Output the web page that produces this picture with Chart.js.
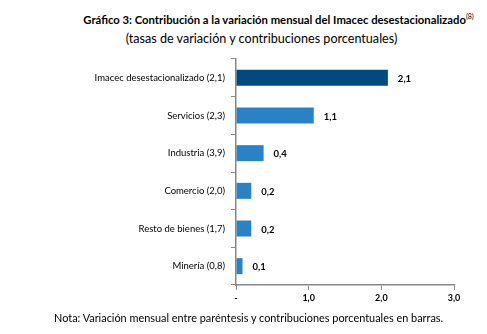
<!DOCTYPE html>
<html>
<head>
<meta charset="utf-8">
<script src="https://cdn.jsdelivr.net/npm/chart.js@4"></script>
<style>
  body { margin: 0; background: #fff; }
  #wrap { position: relative; width: 487px; height: 334px; font-family: Lato, "Open Sans", sans-serif; }
  #title { position: absolute; top: 9px; left: 0; width: 487px; text-align: center; font-size: 11.3px; line-height: 14px; color: #000; }
  #title b { position: relative; left: 35px; }
  #title sup { font-size: 7px; font-weight: normal; }
  #title .sub { position: relative; left: 18px; top: 5px; font-size: 12.6px; }
  #note { position: absolute; top: 311px; left: 54px; font-size: 10.9px; color: #000; }
  canvas { position: absolute; top: 0; left: 0; }
</style>
</head>
<body>
<div id="wrap">
  <div id="title"><b>Gráfico 3: Contribución a la variación mensual del Imacec desestacionalizado<sup>(8)</sup></b><br><span class="sub">(tasas de variación y contribuciones porcentuales)</span></div>
  <canvas id="chart" width="487" height="334"></canvas>
  <div id="note">Nota: Variación mensual entre paréntesis y contribuciones porcentuales en barras.</div>
</div>
<script>
var categories = ['Imacec desestacionalizado (2,1)', 'Servicios (2,3)', 'Industria (3,9)', 'Comercio (2,0)', 'Resto de bienes (1,7)', 'Minería (0,8)'];
var contributions = [2.09, 1.07, 0.38, 0.21, 0.21, 0.09];
var barColors = ['#004A80', '#2A82C6', '#2A82C6', '#2A82C6', '#2A82C6', '#2A82C6'];

function fmt(v) {
  return v.toFixed(1).replace('.', ',');
}

// etiquetas de valor a la derecha de cada barra
var valueLabels = {
  id: 'valueLabels',
  afterDatasetsDraw: function (chart) {
    var ctx = chart.ctx;
    var meta = chart.getDatasetMeta(0);
    ctx.save();
    ctx.font = 'bold 9.5px Lato, "Open Sans", sans-serif';
    ctx.fillStyle = '#000';
    ctx.textBaseline = 'middle';
    meta.data.forEach(function (bar, i) {
      ctx.fillText(fmt(contributions[i]), bar.x + 10, bar.y + 1);
    });
    ctx.restore();
  }
};

Chart.defaults.font.family = 'Lato, "Open Sans", sans-serif';
Chart.defaults.color = '#000';

var ctx = document.getElementById('chart').getContext('2d');
new Chart(ctx, {
  type: 'bar',
  data: {
    labels: categories,
    datasets: [{
      data: contributions,
      backgroundColor: barColors,
      barPercentage: 0.85,
      categoryPercentage: 0.5
    }]
  },
  options: {
    indexAxis: 'y',
    responsive: false,
    animation: false,
    layout: { padding: { top: 59, right: 33, left: 0, bottom: 0 } },
    plugins: {
      legend: { display: false },
      tooltip: { enabled: false }
    },
    scales: {
      x: {
        min: 0,
        max: 3,
        afterFit: function (s) { s.height = 49; },
        ticks: {
          stepSize: 1,
          padding: 3,
          font: { size: 9, weight: 'bold' },
          callback: function (v) { return v === 0 ? '-' : fmt(v); }
        },
        grid: { drawOnChartArea: false, tickLength: 5, color: '#888' },
        border: { color: '#888', width: 1.5 }
      },
      y: {
        afterFit: function (s) { s.width = 236; },
        ticks: { padding: 6, font: { size: 9.5 } },
        grid: { drawOnChartArea: false, tickLength: 5, color: '#888', offset: true },
        border: { color: '#888', width: 1.5 }
      }
    }
  },
  plugins: [valueLabels]
});
</script>
</body>
</html>
